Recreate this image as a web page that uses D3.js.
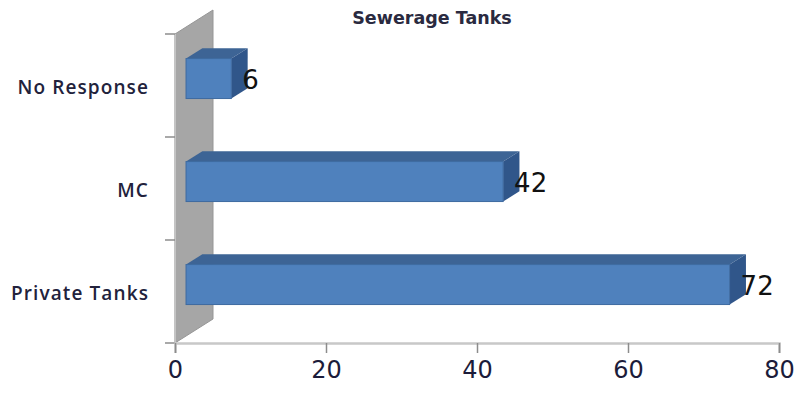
<!DOCTYPE html>
<html>
<head>
<meta charset="utf-8">
<script src="https://cdn.jsdelivr.net/npm/d3@7"></script>
<style>
  html, body { margin: 0; padding: 0; background: #fff; }
  svg { display: block; }
</style>
</head>
<body>
<svg id="chart" width="802" height="403"></svg>
<script>
// Sewerage tank responses
const categories = ["No Response", "MC", "Private Tanks"];
const values = [6, 42, 72];
const xTicks = [0, 20, 40, 60, 80];
const title = "Sewerage Tanks";

const svg = d3.select("#chart");

// plot frame (front plane)
const plotLeft = 175, plotRight = 779, plotTop = 34, plotBottom = 343;
// depth vector of the 3D wall and bar slab position within it
const depth = { x: 38, y: -24 };
const f0 = 0.29, f1 = 0.72;
const barH = 40;

const x = d3.scaleLinear().domain([0, 80]).range([plotLeft, plotRight]);
const y = d3.scaleBand().domain(categories).range([plotTop, plotBottom]);

// side wall (grey back panel)
svg.append("polygon")
  .attr("points", [
    [plotLeft, plotTop], [plotLeft + depth.x, plotTop + depth.y],
    [plotLeft + depth.x, plotBottom + depth.y], [plotLeft, plotBottom]
  ].map(p => p.join(",")).join(" "))
  .attr("fill", "#a6a6a6")
  .attr("stroke", "#969696")
  .attr("stroke-width", 1);

// category axis line + ticks
svg.append("line")
  .attr("x1", plotLeft).attr("x2", plotLeft)
  .attr("y1", plotTop).attr("y2", plotBottom)
  .attr("stroke", "#c4c4c4").attr("stroke-width", 2);
const catTicks = [plotTop, ...categories.slice(1).map(c => y(c)), plotBottom];
svg.selectAll(".ytick").data(catTicks).join("line")
  .attr("class", "ytick")
  .attr("x1", plotLeft - 10).attr("x2", plotLeft)
  .attr("y1", d => d).attr("y2", d => d)
  .attr("stroke", "#8c8c8c").attr("stroke-width", 1.5);

// value axis
const xAxis = d3.axisBottom(x).tickValues(xTicks).tickSize(10).tickPadding(8);
const gx = svg.append("g").attr("transform", `translate(0,${plotBottom})`).call(xAxis);
gx.select(".domain").attr("stroke", "#c8c8c8").attr("stroke-width", 2.5);
gx.selectAll(".tick line").attr("stroke", "#8c8c8c").attr("stroke-width", 1.5);
gx.selectAll(".tick text")
  .attr("font-family", "DejaVu Sans, sans-serif")
  .attr("font-size", 24)
  .attr("fill", "#1c1c3a");

// category labels
svg.selectAll(".cat").data(categories).join("text")
  .attr("class", "cat")
  .attr("x", 149)
  .attr("y", d => y(d) + y.bandwidth() / 2 + 2)
  .attr("dy", "0.35em")
  .attr("text-anchor", "end")
  .attr("font-family", "Open Sans, sans-serif")
  .attr("font-weight", 600)
  .attr("font-size", 19)
  .attr("letter-spacing", 1.1)
  .attr("fill", "#22223c")
  .text(d => d);

// 3D bars
const bars = categories.map((c, i) => {
  const cy = y(c) + y.bandwidth() / 2;
  const fx0 = x(0) + f0 * depth.x;
  const fx1 = x(values[i]) + f0 * depth.x;
  const fyT = cy + f0 * depth.y - barH / 2;
  const fyB = fyT + barH;
  const dx = (f1 - f0) * depth.x, dy = (f1 - f0) * depth.y;
  return { c, v: values[i], fx0, fx1, fyT, fyB, dx, dy };
});

const g = svg.append("g");
const pts = a => a.map(p => p.join(",")).join(" ");
bars.forEach(b => {
  // top face
  g.append("polygon")
    .attr("points", pts([[b.fx0, b.fyT], [b.fx0 + b.dx, b.fyT + b.dy],
      [b.fx1 + b.dx, b.fyT + b.dy], [b.fx1, b.fyT]]))
    .attr("fill", "#3d6495");
  // side face
  g.append("polygon")
    .attr("points", pts([[b.fx1, b.fyT], [b.fx1 + b.dx, b.fyT + b.dy],
      [b.fx1 + b.dx, b.fyB + b.dy], [b.fx1, b.fyB]]))
    .attr("fill", "#30568a");
  // front face
  g.append("rect")
    .attr("x", b.fx0).attr("y", b.fyT)
    .attr("width", b.fx1 - b.fx0).attr("height", barH)
    .attr("fill", "#4f81bd")
    .attr("stroke", "#3e6aa0").attr("stroke-width", 1);
  // value label
  g.append("text")
    .attr("x", b.fx1 + 11)
    .attr("y", (b.fyT + b.fyB) / 2 + 10)
    .attr("font-family", "DejaVu Sans, sans-serif")
    .attr("font-size", 26)
    .attr("fill", "#111")
    .text(b.v);
});

// title
svg.append("text")
  .attr("x", 432).attr("y", 24)
  .attr("text-anchor", "middle")
  .attr("font-family", "DejaVu Sans, sans-serif")
  .attr("font-weight", "bold")
  .attr("font-size", 17.5)
  .attr("fill", "#2a2a40")
  .text(title);
</script>
</body>
</html>
